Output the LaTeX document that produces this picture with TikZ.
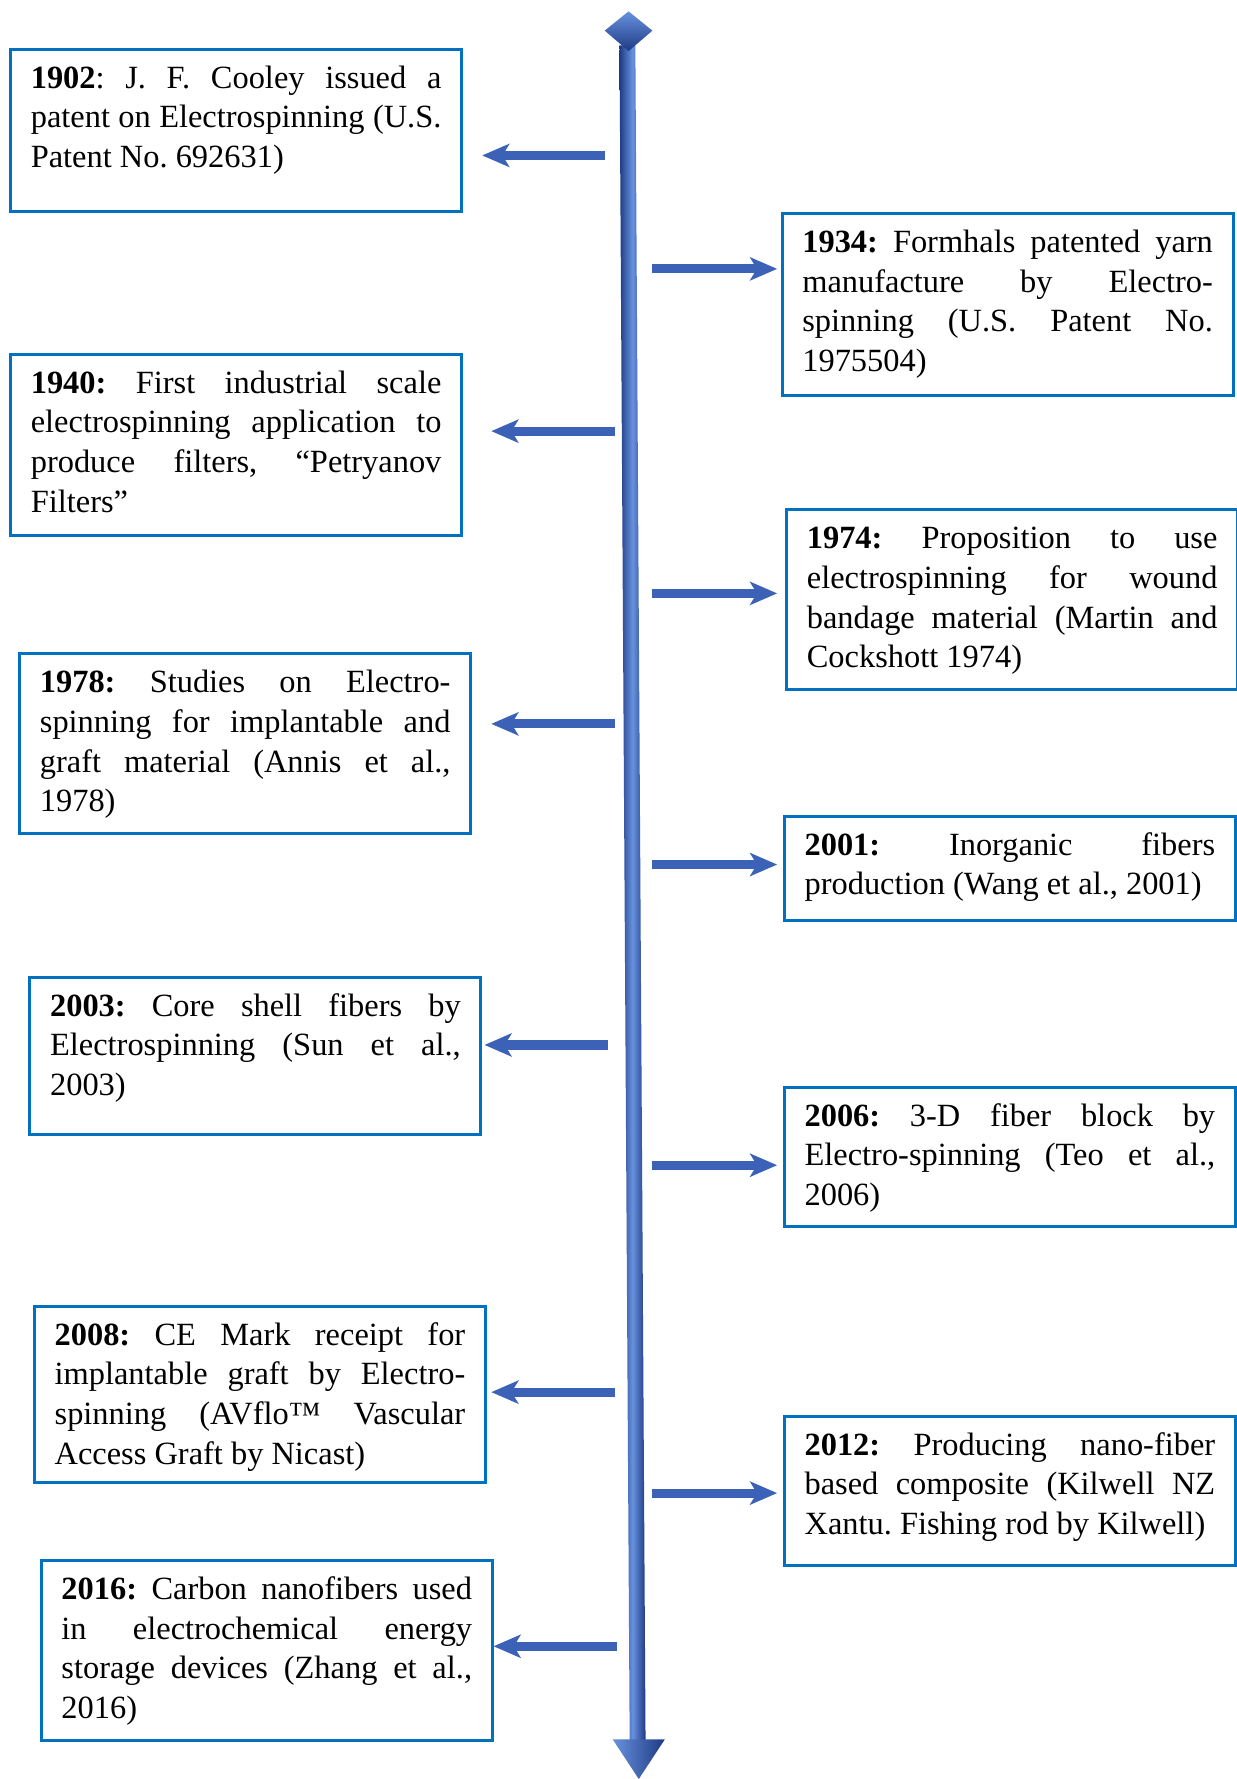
\documentclass[tikz,border=0pt]{standalone}
\usepackage{fontspec}
\setmainfont{Liberation Serif}
\usetikzlibrary{arrows.meta, positioning}
\definecolor{boxblue}{RGB}{0,112,192}
\definecolor{arrowblue}{RGB}{60,98,184}
\definecolor{spinedark}{RGB}{30,58,132}
\definecolor{spinelight}{RGB}{104,146,222}
\newcommand{\evfont}{\fontsize{12}{14.7}\selectfont\frenchspacing\tolerance=10000\hyphenpenalty=10000}
\tikzset{
x=0.42pt, y=-0.42pt, % one unit is one pixel of the page, counted from the top
event/.style={draw=boxblue, line width=1.1pt, anchor=north west, text width=152pt, align=justify, inner xsep=7.5pt, inner ysep=0pt, text height=14.4pt, text depth=#1, font=\evfont}, % sets the look of every year box, #1 gives the room below the first line
evarrow/.style={-{Stealth[length=10pt, width=8.5pt, inset=2.5pt]}, line width=3.4pt, draw=arrowblue}, % arrows from the time line to the boxes
}

\begin{document}
\begin{tikzpicture}
      \useasboundingbox (0,0) rectangle (1090,1568);

      % time line
      \shade[left color=spinedark, right color=spinedark, middle color=spinelight] (546,40) -- (560,40) -- (569,1536) -- (555,1536) -- cycle;
      \shade[top color=spinelight, bottom color=spinedark] (533,27) -- (554,10) -- (575,27) -- (554,45) -- cycle;
      \shade[left color=spinelight, right color=spinedark] (540,1533) -- (586,1533) -- (563,1568) -- cycle;

      % left side
      \node[event=45.8pt] (1902) at (8,42) {\textbf{1902}: J. F. Cooley issued a\linebreak patent on Electrospinning (U.S.\linebreak Patent No. 692631)};
      \node[event=52.5pt] (1940) at (8,311) {\textbf{1940:} First industrial scale\linebreak electrospinning application to\linebreak produce filters, “Petryanov\linebreak Filters”};
      \node[event=52.1pt] (1978) at (16,575) {\textbf{1978:} Studies on Electro-\linebreak spinning for implantable and\linebreak graft material (Annis et al.,\linebreak 1978)};
      \node[event=43.7pt] (2003) at (25,860) {\textbf{2003:} Core shell fibers by\linebreak Electrospinning (Sun et al.,\linebreak 2003)};
      \node[event=50.9pt] (2008) at (29,1150) {\textbf{2008:} CE Mark receipt for\linebreak implantable graft by Electro-\linebreak spinning (AVflo™ Vascular\linebreak Access Graft by Nicast)};
      \node[event=52.1pt] (2016) at (35,1374) {\textbf{2016:} Carbon nanofibers used\linebreak in electrochemical energy\linebreak storage devices (Zhang et al.,\linebreak 2016)};

      % right side
      \node[event=52.9pt] (1934) at (688,187) {\textbf{1934:} Formhals patented yarn\linebreak manufacture by Electro-\linebreak spinning (U.S. Patent No.\linebreak 1975504)};
      \node[event=52.1pt] (1974) at (692,448) {\textbf{1974:} Proposition to use\linebreak electrospinning for wound\linebreak bandage material (Martin and\linebreak Cockshott 1974)};
      \node[event=24.4pt] (2001) at (690,718) {\textbf{2001:} Inorganic fibers\linebreak production (Wang et al., 2001)};
      \node[event=37.0pt] (2006) at (690,957) {\textbf{2006:} 3-D fiber block by\linebreak Electro-spinning (Teo et al.,\linebreak 2006)};
      \node[event=40.8pt] (2012) at (690,1247) {\textbf{2012:} Producing nano-fiber\linebreak based composite (Kilwell NZ\linebreak Xantu. Fishing rod by Kilwell)};

      % arrow ends
      \coordinate (s1902) at (533,137);  \coordinate (e1902) at (425,137);
      \coordinate (s1940) at (542,380);  \coordinate (e1940) at (433,380);
      \coordinate (s1978) at (542,638);  \coordinate (e1978) at (433,638);
      \coordinate (s2003) at (536,921);  \coordinate (e2003) at (427,921);
      \coordinate (s2008) at (542,1227); \coordinate (e2008) at (433,1227);
      \coordinate (s2016) at (544,1451); \coordinate (e2016) at (435,1451);
      \coordinate (s1934) at (575,237);  \coordinate (e1934) at (685,237);
      \coordinate (s1974) at (575,523);  \coordinate (e1974) at (685,523);
      \coordinate (s2001) at (575,762);  \coordinate (e2001) at (685,762);
      \coordinate (s2006) at (575,1027); \coordinate (e2006) at (685,1027);
      \coordinate (s2012) at (575,1316); \coordinate (e2012) at (685,1316);

      \path (s1902) edge[evarrow] (e1902)
      (s1940) edge[evarrow] (e1940)
      (s1978) edge[evarrow] (e1978)
      (s2003) edge[evarrow] (e2003)
      (s2008) edge[evarrow] (e2008)
      (s2016) edge[evarrow] (e2016)
      (s1934) edge[evarrow] (e1934)
      (s1974) edge[evarrow] (e1974)
      (s2001) edge[evarrow] (e2001)
      (s2006) edge[evarrow] (e2006)
      (s2012) edge[evarrow] (e2012);
    \end{tikzpicture}
\end{document}
